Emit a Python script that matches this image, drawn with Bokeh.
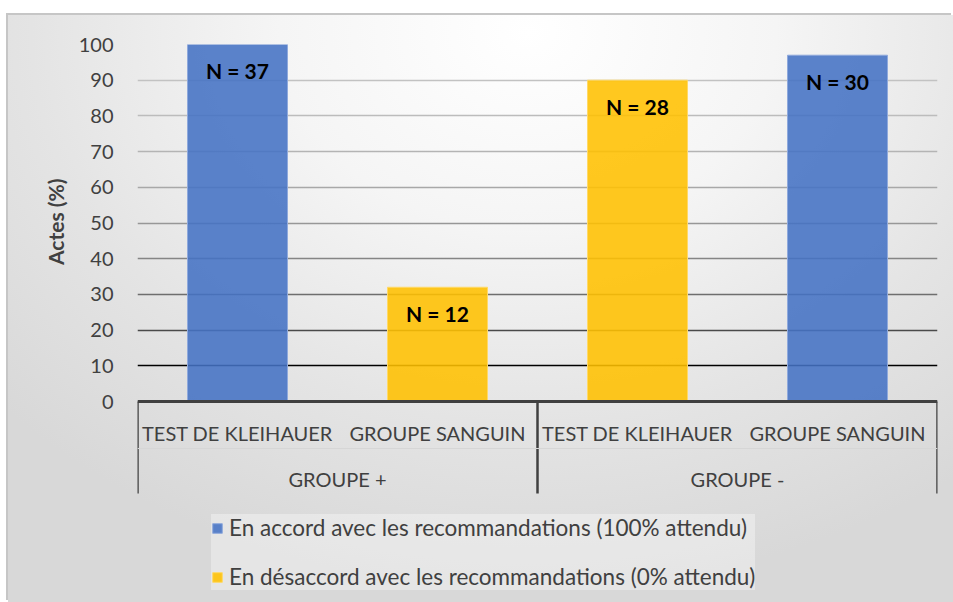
from bokeh.plotting import figure
from bokeh.models import (FactorRange, Range1d, Grid, FixedTicker, Arrow, Legend, LegendItem,
                          LabelSet, ColumnDataSource, Title)
from bokeh.core.properties import value
from bokeh.embed import file_html
from bokeh.resources import INLINE

# ---- data ----
groups = ["GROUPE +", "GROUPE +", "GROUPE -", "GROUPE -"]
tests = ["TEST DE KLEIHAUER", "GROUPE SANGUIN", "TEST DE KLEIHAUER", "GROUPE SANGUIN"]
percent = [100, 32, 90, 97]
n_values = [37, 12, 28, 30]
series_of_bar = [0, 1, 1, 0]
series_names = ["En accord avec les recommandations (100% attendu)",
                "En désaccord avec les recommandations (0% attendu)"]
series_colors = ["#4472C4", "#FFC000"]
series_edges = ["#8fa9dc", "#ffd966"]
y_ticks = [0, 10, 20, 30, 40, 50, 60, 70, 80, 90, 100]
y_title = "Actes (%)"
grid_tones = ["#000000", "#000000", "#4a4a4a", "#6e6e6e", "#858585", "#979797",
              "#a8a8a8", "#b4b4b4", "#bcbcbc", "#c2c2c2", "#c4c4c4"]

FONT = "Lato"
TXT = "#404040"

# layout geometry (pixels)
FIG_W, FIG_H = 945, 587
TOP, LEFT, RIGHT = 29, 129, 16
PX_PER_UNIT = 3.57          # 100 % = 357 px
frame_h = FIG_H - TOP
y_start = 100 - frame_h / PX_PER_UNIT

factors = list(zip(groups, tests))
x_range = FactorRange(*factors, factor_padding=0, group_padding=0, range_padding=0)

p = figure(x_range=x_range, y_range=Range1d(y_start, 100), width=FIG_W, height=FIG_H,
           output_backend="svg", toolbar_location=None,
           min_border_left=LEFT, min_border_right=RIGHT, min_border_top=TOP,
           min_border_bottom=0)
p.margin = (15, 0, 0, 8)
p.border_fill_color = None
p.background_fill_color = None
p.outline_line_color = None
p.styles = {
    "background": "radial-gradient(ellipse 75% 95% at 55% 3%, #ffffff 0%, #f5f5f5 35%, #e4e4e4 70%, #d8d8d8 100%)",
    "box-shadow": "-2px -2px 0 0 #c6c6c6",
}

# grids
p.xgrid.visible = False
p.ygrid.visible = False
for t, c in zip(y_ticks[1:], grid_tones[1:]):
    p.add_layout(Grid(dimension=1, ticker=FixedTicker(ticks=[t]),
                      grid_line_color=c, grid_line_width=1.5))

# bars
legend_items = []
for s in range(len(series_names)):
    xs = [f for f, k in zip(factors, series_of_bar) if k == s]
    ts = [v for v, k in zip(percent, series_of_bar) if k == s]
    src = ColumnDataSource(dict(x=xs, top=ts))
    r = p.vbar(x="x", top="top", bottom=0, width=0.5, source=src,
               fill_color=series_colors[s], fill_alpha=0.88,
               line_color=series_edges[s], line_width=1)
    legend_items.append(LegendItem(label=series_names[s], renderers=[r]))

# N labels
lab_src = ColumnDataSource(dict(x=factors, y=percent,
                                text=[f"N = {n}" for n in n_values]))
p.add_layout(LabelSet(x="x", y="y", text="text", source=lab_src, y_offset=-26,
                      text_align="center", text_baseline="middle",
                      text_font=value(FONT), text_font_style="bold",
                      text_font_size="21px", text_color="#000000"))

# y axis
ya = p.yaxis[0]
ya.ticker = FixedTicker(ticks=y_ticks)
ya.major_label_text_font = FONT
ya.major_label_text_font_size = "20px"
ya.major_label_text_color = TXT
ya.major_label_standoff = 24
ya.axis_line_color = None
ya.major_tick_line_color = None
ya.minor_tick_line_color = None
ya.major_tick_out = 0

# y title, centred on the 0-100 part of the axis
p.add_layout(Title(text=y_title, align="right", offset=134, vertical_align="bottom",
                   standoff=16, text_font=FONT, text_font_style="bold",
                   text_font_size="21px", text_color=TXT), "left")

# x axis (nested categories), drawn at y = 0 inside the frame
xa = p.xaxis[0]
xa.fixed_location = 0
xa.axis_line_color = "#404040"
xa.axis_line_width = 3
xa.major_tick_line_color = None
xa.minor_tick_line_color = None
xa.major_tick_out = 0
xa.major_label_text_font = FONT
xa.major_label_text_font_size = "20px"
xa.major_label_text_color = TXT
xa.major_label_standoff = 19
xa.major_label_orientation = "horizontal"
xa.group_text_font = FONT
xa.group_text_font_size = "20px"
xa.group_text_font_style = "normal"
xa.group_text_color = TXT
xa.group_label_orientation = "horizontal"
xa.separator_line_color = None

# vertical separators of the category table (group boundaries)
edges = [0]
for i in range(1, len(groups)):
    if groups[i] != groups[i - 1]:
        edges.append(i)
edges.append(len(groups))
depth = -92 / PX_PER_UNIT
for e in edges:
    p.add_layout(Arrow(end=None, x_start=e, y_start=0, x_end=e, y_end=depth,
                       line_color="#404040", line_width=2.5))
row_split = -47 / PX_PER_UNIT
p.add_layout(Arrow(end=None, x_start=0, y_start=row_split, x_end=len(groups), y_end=row_split,
                   line_color="#d6d6d6", line_width=1))

# legend
legend = Legend(items=legend_items, location=(74, 12), orientation="vertical",
                label_text_font=FONT, label_text_font_size="22.5px",
                label_text_color=TXT, glyph_width=12, glyph_height=12,
                label_height=24, spacing=22, padding=9, label_standoff=6,
                border_line_color=None, background_fill_color="#ffffff",
                background_fill_alpha=0.35)
p.add_layout(legend)

open("out.html", "w").write(file_html(p, INLINE))
